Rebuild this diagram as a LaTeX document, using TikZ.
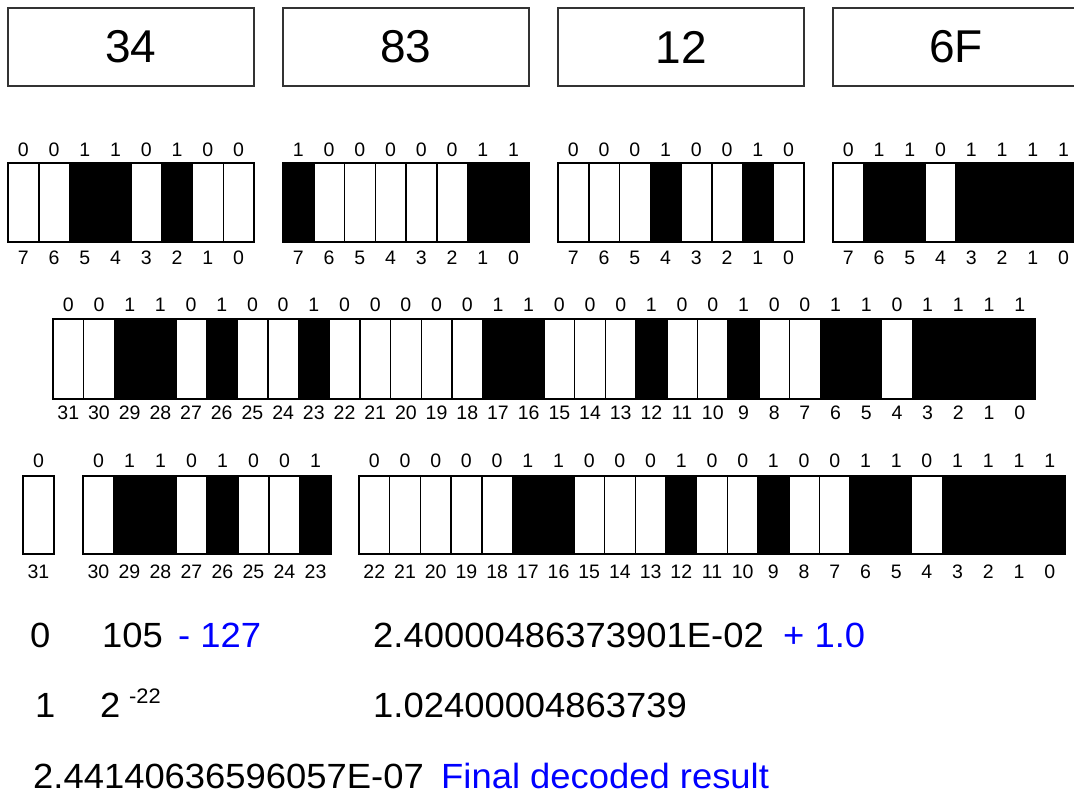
\documentclass[tikz,border=0pt]{standalone}
\usepackage{fontspec}
\setmainfont{Liberation Sans}
\newfontfamily\widefont[FakeStretch=1.04]{Liberation Sans}
\colorlet{bit0}{white}
\colorlet{bit1}{black}
\begin{document}
\begin{tikzpicture}[x=1pt,y=-1pt,
  hexbox/.style={draw=black!80,line width=1.5pt,minimum width=246pt,minimum height=78pt,inner sep=0pt,font=\fontsize{46}{50}\selectfont},
  cell/.style={draw=black,line width=1.5pt},
  bitlbl/.style={inner sep=0pt,font=\fontsize{19.5}{22}\selectfont},
  result/.style={anchor=base west,inner sep=0pt,font=\widefont\fontsize{35}{40}\selectfont},
  added/.style={result,text=blue}]
  \useasboundingbox (0,0) rectangle (1074,795);
  \foreach \h [count=\k from 0] in {34,83,12,6F}
    \node[hexbox] (hex\k) at (131+275*\k,47) {\h};
  \foreach \bits [count=\k from 0] in {{0,0,1,1,0,1,0,0},{1,0,0,0,0,0,1,1},{0,0,0,1,0,0,1,0},{0,1,1,0,1,1,1,1}}
    \foreach \b [count=\i from 0] in \bits {
      \pgfmathtruncatemacro\n{7-\i}
      \draw[cell,fill=bit\b] (8+275*\k+30.75*\i,163) rectangle ++(30.75,79);
      \node[bitlbl] (byte\k-v\i) at (23.4+275*\k+30.75*\i,150) {\b};
      \node[bitlbl] (byte\k-n\i) at (23.4+275*\k+30.75*\i,258) {\n};
    }
  \foreach \b [count=\i from 0] in {0,0,1,1,0,1,0,0,1,0,0,0,0,0,1,1,0,0,0,1,0,0,1,0,0,1,1,0,1,1,1,1} {
    \pgfmathtruncatemacro\n{31-\i}
    \draw[cell,fill=bit\b] (53+30.69*\i,319) rectangle ++(30.69,80);
    \node[bitlbl] (word-v\i) at (68.3+30.69*\i,305) {\b};
    \node[bitlbl] (word-n\i) at (68.3+30.69*\i,413) {\n};
  }
  \draw[cell,fill=bit0] (23,476) rectangle (54,554);
  \node[bitlbl] (sign-v) at (38.5,461) {0};
  \node[bitlbl] (sign-n) at (38.5,572) {31};
  \foreach \b [count=\i from 0] in {0,1,1,0,1,0,0,1} {
    \pgfmathtruncatemacro\n{30-\i}
    \draw[cell,fill=bit\b] (83+31*\i,476) rectangle ++(31,78);
    \node[bitlbl] (exp-v\i) at (98.5+31*\i,461) {\b};
    \node[bitlbl] (exp-n\i) at (98.5+31*\i,572) {\n};
  }
  \foreach \b [count=\i from 0] in {0,0,0,0,0,1,1,0,0,0,1,0,0,1,0,0,1,1,0,1,1,1,1} {
    \pgfmathtruncatemacro\n{22-\i}
    \draw[cell,fill=bit\b] (359+30.7*\i,476) rectangle ++(30.7,78);
    \node[bitlbl] (man-v\i) at (374.3+30.7*\i,461) {\b};
    \node[bitlbl] (man-n\i) at (374.3+30.7*\i,572) {\n};
  }
  \node[result] (sgn) at (30,647) {0};
  \node[result] (expo) at (102,647) {105};
  \node[added] (bias) at (178,647) {- 127};
  \node[result] (frac) at (373,647) {2.40000486373901E-02};
  \node[added] (one) at (783,647) {+ 1.0};
  \node[result] (sgnpow) at (35,717) {1};
  \node[result] (twopow) at (100,717) {2};
  \node[bitlbl,anchor=base west,font=\widefont\fontsize{21}{24}\selectfont] (powexp) at (129,703) {-22};
  \node[result] (mant) at (373,717) {1.02400004863739};
  \node[result] (value) at (33,788) {2.44140636596057E-07};
  \node[added] (note) at (441,788) {Final decoded result};
\end{tikzpicture}
\end{document}
